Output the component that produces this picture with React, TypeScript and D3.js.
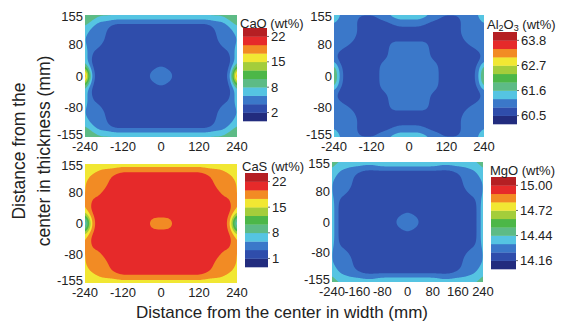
import React, { useMemo } from "react";
import * as d3 from "d3";

// Band colours of the 11-level colour bars (bottom -> top)
const BAND_COLORS = [
  "#222c7e", "#2f4dab", "#3b78c9", "#55c4e2", "#5dbb86", "#4cb748",
  "#a4cd3b", "#f1e733", "#f28b24", "#e62a2a", "#b51f23",
];

const X_TICKS_A = [-240, -120, 0, 120, 240];
const X_TICKS_B = [-240, -160, -80, 0, 80, 160, 240];
const Y_TICKS = [155, 80, 0, -80, -155];
const CB_TICK_LEVELS = [1, 4, 7, 10];
const CAO_TICKS = ["2", "8", "15", "22"];
const AL2O3_TICKS = ["60.5", "61.6", "62.7", "63.8"];
const CAS_TICKS = ["1", "8", "15", "22"];
const MGO_TICKS = ["14.16", "14.44", "14.72", "15.00"];

// Quarter fields (band level, base-36 digits).
// Row 0 = top edge (155 mm) .. row 15 = centre (0 mm); col 0 = left edge (-240 mm) .. col 24 = centre.
const CAO_GRID = [
  "5555555555555555555555555",
  "4443222222222222222222222",
  "4433222221111111111111111",
  "4322222211111111111111111",
  "3222222111111111111111111",
  "3222222111111111111111111",
  "3222222111111111111111111",
  "3222221111111111111111111",
  "3222211111111111111111111",
  "4221111111111111111111111",
  "4211111111111111111111111",
  "4211111111111111111111111",
  "4211111111111111111111111",
  "5211111111111111111111122",
  "d521111111111111111112222",
  "d521111111111111111122222",
];

const AL2O3_GRID = [
  "3332222222222223333333333",
  "3322222111111111122333333",
  "3222222211111111111122222",
  "2222222211111111111111111",
  "2222222211111111111111111",
  "2222222211111111111111111",
  "2222222111111111111111111",
  "2222221111111111112222222",
  "2222111111111111112222222",
  "2211111111111111112222222",
  "2111111111111111112222222",
  "2111111111111111122222222",
  "4111111111111112222222222",
  "6321111111111112222222222",
  "6321111111111112222222222",
  "6321111111111112222222222",
];

const CAS_GRID = [
  "7777666666666666666666666",
  "7777788888888888888888888",
  "7777888888899999999999999",
  "7788888889999999999999999",
  "7888888899999999999999999",
  "7888888899999999999999999",
  "7888888999999999999999999",
  "7888889999999999999999999",
  "7888899999999999999999999",
  "7899999999999999999999999",
  "7899999999999999999999999",
  "7899999999999999999999999",
  "7899999999999999999999999",
  "5899999999999999999999999",
  "0489999999999999999998888",
  "0489999999999999999988888",
];

const MGO_GRID = [
  "4444444444444445555555555",
  "4333322222222222222222222",
  "4332222222111111111111111",
  "3322222211111111111111111",
  "3222222111111111111111111",
  "3222222111111111111111111",
  "3222222111111111111111111",
  "3222221111111111111111111",
  "3222211111111111111111111",
  "3221111111111111111111111",
  "4211111111111111111111111",
  "4211111111111111111111111",
  "4211111111111111111111111",
  "4211111111111111111111122",
  "4211111111111111111112222",
  "4211111111111111111122222",
];

const FONT = "'Liberation Sans', Arial, Helvetica, sans-serif";
const F = 4; // rendering refinement of the level grid
const SMOOTH = 4;

function fullGrid(q: string[]): number[][] {
  const R = q.length;
  const C = q[0].length;
  const rows = 2 * R - 1;
  const cols = 2 * C - 1;
  const g: number[][] = [];
  for (let i = 0; i < rows; i++) {
    const qi = i < R ? i : rows - 1 - i;
    const row: number[] = [];
    for (let j = 0; j < cols; j++) {
      const qj = j < C ? j : cols - 1 - j;
      row.push(parseInt(q[qi][qj], 36));
    }
    g.push(row);
  }
  return g;
}

function refine(g: number[][]) {
  const rows = g.length;
  const cols = g[0].length;
  const nx = (cols - 1) * F + 1;
  const ny = (rows - 1) * F + 1;
  const data = new Float64Array(nx * ny);
  for (let v = 0; v < ny; v++) {
    const fy = v / F;
    const i0 = Math.min(Math.floor(fy), rows - 2);
    const ty = fy - i0;
    for (let u = 0; u < nx; u++) {
      const fx = u / F;
      const j0 = Math.min(Math.floor(fx), cols - 2);
      const tx = fx - j0;
      const a = g[i0][j0], b = g[i0][j0 + 1], c = g[i0 + 1][j0], d = g[i0 + 1][j0 + 1];
      data[v * nx + u] = a * (1 - tx) * (1 - ty) + b * tx * (1 - ty) + c * (1 - tx) * ty + d * tx * ty;
    }
  }
  const anyD3 = d3 as any;
  if (typeof anyD3.blur2 === "function") anyD3.blur2({ data, width: nx, height: ny }, SMOOTH);
  return { data, nx, ny, cols, rows };
}

type PanelCfg = {
  id: string;
  grid: string[];
  ticks: string[];
  title: React.ReactNode;
  x0: number; x1: number; y0: number; y1: number;
  xt: number[];
  cbx: number; cbw: number; cby0: number; cby1: number;
  tx: number; ty: number;
};

function Panel({ p }: { p: PanelCfg }) {
  const xs = d3.scaleLinear().domain([-240, 240]).range([p.x0, p.x1]);
  const ys = d3.scaleLinear().domain([-155, 155]).range([p.y1, p.y0]);
  const paths = useMemo(() => {
    const g = fullGrid(p.grid);
    const { data, nx, ny, cols, rows } = refine(g);
    const dxmm = 480 / (cols - 1);
    const dymm = 310 / (rows - 1);
    const thresholds = d3.range(1, 11).map((k) => k - 0.5);
    const cs = d3.contours().size([nx, ny]).thresholds(thresholds)(Array.from(data));
    const proj = d3.geoTransform({
      point(x: number, y: number) {
        (this as any).stream.point(
          xs(-240 + (dxmm * (x - 0.5)) / F),
          ys(155 - (dymm * (y - 0.5)) / F)
        );
      },
    });
    const gp = d3.geoPath(proj);
    return cs.map((c, i) => ({ d: gp(c as any) || "", color: BAND_COLORS[i + 1] }));
  }, [p.id]);

  const cb = d3.scaleLinear().domain([0, 11]).range([p.cby1, p.cby0]);
  const clipId = "clip-" + p.id;
  return (
    <g>
      <defs>
        <clipPath id={clipId}>
          <rect x={p.x0} y={p.y0} width={p.x1 - p.x0} height={p.y1 - p.y0} />
        </clipPath>
      </defs>
      <g clipPath={`url(#${clipId})`}>
        <rect x={p.x0} y={p.y0} width={p.x1 - p.x0} height={p.y1 - p.y0} fill={BAND_COLORS[0]} />
        {paths.map((c, i) => (
          <path key={i} d={c.d} fill={c.color} fillRule="evenodd" stroke="none" />
        ))}
      </g>
      {Y_TICKS.map((v) => (
        <text key={"y" + v} x={p.x0 - 2} y={ys(v) + (v === -155 ? -3 : v === 155 ? 1 : 0)}
          textAnchor="end" dominantBaseline="central" fontSize={13} fill="#222" fontFamily={FONT}>
          {v}
        </text>
      ))}
      {p.xt.map((v) => (
        <text key={"x" + v} x={xs(v)} y={p.y1 + 9} textAnchor="middle" dominantBaseline="central"
          fontSize={13} fill="#222" fontFamily={FONT}>
          {v}
        </text>
      ))}
      {d3.range(11).map((k) => (
        <rect key={"b" + k} x={p.cbx} y={cb(k + 1)} width={p.cbw} height={cb(k) - cb(k + 1) + 0.3}
          fill={BAND_COLORS[k]} />
      ))}
      {CB_TICK_LEVELS.map((lv, i) => (
        <g key={"t" + lv}>
          <line x1={p.cbx + p.cbw} x2={p.cbx + p.cbw + 2} y1={cb(lv)} y2={cb(lv)} stroke="#444" strokeWidth={0.8} />
          <text x={p.cbx + p.cbw + 4} y={cb(lv)} dominantBaseline="central" fontSize={13} fill="#222" fontFamily={FONT}>
            {p.ticks[i]}
          </text>
        </g>
      ))}
      <text x={p.tx} y={p.ty} dominantBaseline="central" fontSize={13} fill="#222" fontFamily={FONT}>
        {p.title}
      </text>
    </g>
  );
}

export default function App() {
  const panels: PanelCfg[] = [
    { id: "cao", grid: CAO_GRID, ticks: CAO_TICKS, title: "CaO (wt%)",
      x0: 85, x1: 237, y0: 15, y1: 137, xt: X_TICKS_A,
      cbx: 243, cbw: 24, cby0: 28, cby1: 121, tx: 240, ty: 23 },
    { id: "al2o3", grid: AL2O3_GRID, ticks: AL2O3_TICKS,
      title: (<>
        Al<tspan fontSize={9} dy={4}>2</tspan><tspan dy={-4}>O</tspan><tspan fontSize={9} dy={4}>3</tspan><tspan dy={-4}> (wt%)</tspan>
      </>),
      x0: 334, x1: 484, y0: 15, y1: 137, xt: X_TICKS_A,
      cbx: 493, cbw: 24, cby0: 32, cby1: 124, tx: 487, ty: 24 },
    { id: "cas", grid: CAS_GRID, ticks: CAS_TICKS, title: "CaS (wt%)",
      x0: 85, x1: 237, y0: 164, y1: 283, xt: X_TICKS_A,
      cbx: 245, cbw: 23, cby0: 173, cby1: 267, tx: 242, ty: 166 },
    { id: "mgo", grid: MGO_GRID, ticks: MGO_TICKS, title: "MgO (wt%)",
      x0: 332, x1: 483, y0: 162, y1: 282, xt: X_TICKS_B,
      cbx: 491, cbw: 25, cby0: 177, cby1: 269, tx: 490, ty: 170 },
  ];
  return (
    <svg width={562} height={327} style={{ position: "fixed", left: 0, top: 0, background: "#fff" }}>
      <rect width={562} height={327} fill="#fff" />
      {panels.map((p) => (
        <Panel key={p.id} p={p} />
      ))}
      <text transform="translate(25,151) rotate(-90)" textAnchor="middle" fontSize={17.5} fill="#222" fontFamily={FONT}>
        Distance from the
      </text>
      <text transform="translate(50,151) rotate(-90)" textAnchor="middle" fontSize={17.5} fill="#222" fontFamily={FONT}>
        center in thickness (mm)
      </text>
      <text x={282} y={318} textAnchor="middle" fontSize={17} fill="#222" fontFamily={FONT}>
        Distance from the center in width (mm)
      </text>
    </svg>
  );
}
